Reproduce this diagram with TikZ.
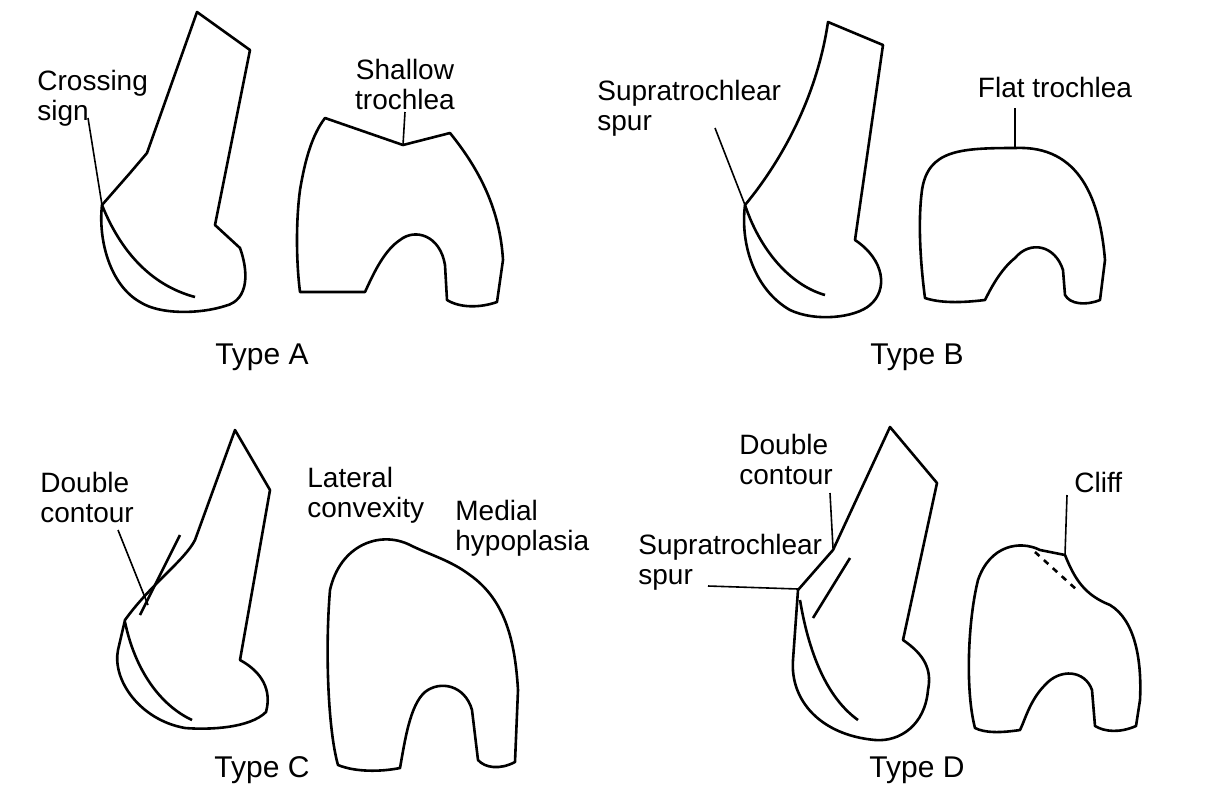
\documentclass[tikz,border=0pt]{standalone}
\usepackage{fontspec}
\setmainfont{Liberation Sans}
\tikzset{
  bone/.style={line width=1.3pt, line join=round},   % outline of a femur view
  lead/.style={line width=0.8pt},                    % leader line of a label
  lbl/.style={align=left, inner sep=1pt, font=\fontsize{14}{15}\selectfont},
  typ/.style={font=\fontsize{15}{16}\selectfont}
}
\begin{document}
\begin{tikzpicture}[x=0.5pt, y=-0.5pt]
  \useasboundingbox (0,0) rectangle (1216,800);

  % Type A
  \draw[bone] (197,12) -- (250,50) -- (215,225) -- (240,248)
    .. controls (248,270) and (250,300) .. (225,306)
    .. controls (200,314) and (160,315) .. (140,302)
    .. controls (110,285) and (98,240) .. (102,205)
    -- (130,173) -- (147,153) -- cycle;
  \draw[bone] (102,205) .. controls (120,250) and (150,285) .. (195,297);
  \coordinate (crossA) at (102,205);
  \node[lbl, anchor=north west] (crossing) at (35,68) {Crossing\\sign};
  \draw[lead] (88,118) -- (crossA);
  \draw[bone] (325,118) -- (403,145) -- (450,133)
    .. controls (480,170) and (500,210) .. (503,260)
    -- (497,302) .. controls (480,308) and (460,308) .. (447,300)
    -- (445,265) .. controls (440,235) and (415,228) .. (400,240)
    .. controls (385,250) and (375,270) .. (365,292)
    -- (300,292) .. controls (296,260) and (296,220) .. (300,190)
    .. controls (305,160) and (312,135) .. cycle;
  \coordinate (trochA) at (403,145);
  \node[lbl, align=center, anchor=south] (shallow) at (405,112) {Shallow\\trochlea};
  \draw[lead] (trochA) -- (shallow.south);
  \node[typ] (typeA) at (262,357) {Type A};

  % Type B
  \draw[bone] (828,22) -- (883,45) -- (855,240)
    .. controls (885,260) and (888,290) .. (870,305)
    .. controls (855,318) and (815,322) .. (790,310)
    .. controls (755,290) and (740,245) .. (745,205)
    .. controls (770,175) and (815,110) .. cycle;
  \draw[bone] (745,205) .. controls (760,250) and (790,285) .. (825,295);
  \coordinate (spurB) at (745,205);
  \node[lbl, anchor=north west] (supraB) at (595,78) {Supratrochlear\\spur};
  \draw[lead] (715,128) -- (spurB);
  \draw[bone] (1015,148) .. controls (1080,145) and (1100,200) .. (1105,260)
    -- (1100,300) .. controls (1085,306) and (1070,304) .. (1065,295)
    -- (1063,270) .. controls (1055,245) and (1030,240) .. (1015,258)
    .. controls (1000,270) and (990,290) .. (985,300)
    .. controls (960,303) and (940,303) .. (925,298)
    .. controls (920,260) and (918,220) .. (922,190)
    .. controls (928,150) and (960,148) .. cycle;
  \coordinate (trochB) at (1015,148);
  \node[lbl, anchor=south] (flat) at (1055,100) {Flat trochlea};
  \draw[lead] (trochB) -- (1015,108);
  \node[typ] (typeB) at (917,357) {Type B};

  % Type C
  \draw[bone] (235,430) -- (270,490) -- (240,660)
    .. controls (262,672) and (272,690) .. (266,712)
    .. controls (250,728) and (210,730) .. (185,728)
    .. controls (140,720) and (112,680) .. (118,650)
    -- (125,620) .. controls (150,585) and (185,560) .. (195,540) -- cycle;
  \draw[bone] (125,622) .. controls (135,670) and (160,705) .. (192,720);
  \draw[bone] (180,535) -- (140,615);
  \coordinate (dblC) at (148,605);
  \node[lbl, anchor=north west] (doubleC) at (38,470) {Double\\contour};
  \draw[lead] (118,530) -- (dblC);
  \draw[bone] (330,590) .. controls (340,545) and (380,530) .. (410,545)
    .. controls (430,555) and (450,560) .. (470,575)
    .. controls (505,600) and (515,640) .. (518,690)
    -- (515,762) .. controls (500,770) and (485,768) .. (478,760)
    -- (472,710) .. controls (465,685) and (440,680) .. (425,692)
    .. controls (410,705) and (405,740) .. (400,768)
    .. controls (380,772) and (355,772) .. (338,765)
    .. controls (328,730) and (325,650) .. cycle;
  \node[lbl, anchor=north west] (latconv) at (305,465) {Lateral\\convexity};
  \node[lbl, anchor=north west] (medhyp) at (453,498) {Medial\\hypoplasia};
  \node[typ] (typeC) at (262,770) {Type C};

  % Type D
  \draw[bone] (890,427) -- (937,483) -- (903,640)
    .. controls (925,655) and (932,670) .. (928,690)
    .. controls (925,725) and (900,742) .. (875,740)
    .. controls (820,735) and (790,700) .. (793,660)
    -- (798,590) -- (833,550) -- cycle;
  \draw[bone] (800,600) .. controls (810,660) and (830,700) .. (858,720);
  \draw[bone] (850,558) -- (813,618);
  \coordinate (dblD) at (833,548);
  \coordinate (spurD) at (798,589);
  \node[lbl, anchor=north west] (doubleD) at (737,432) {Double\\contour};
  \draw[lead] (830,493) -- (dblD);
  \node[lbl, anchor=north west] (supraD) at (636,532) {Supratrochlear\\spur};
  \draw[lead] (708,586) -- (spurD);
  \draw[bone] (1065,555) .. controls (1075,580) and (1085,595) .. (1110,605)
    .. controls (1135,620) and (1142,660) .. (1140,700)
    -- (1136,726) .. controls (1120,733) and (1105,732) .. (1095,726)
    -- (1092,690) .. controls (1085,670) and (1060,668) .. (1045,685)
    .. controls (1030,700) and (1025,720) .. (1020,730)
    .. controls (1000,733) and (985,733) .. (975,728)
    .. controls (965,690) and (968,620) .. (978,580)
    .. controls (990,545) and (1020,540) .. (1040,550) -- cycle;
  \draw[bone, dashed] (1035,552) -- (1077,590);
  \coordinate (cliffD) at (1065,555);
  \node[lbl, anchor=north west] (cliff) at (1072,470) {Cliff};
  \draw[lead] (cliffD) -- (1067,495);
  \node[typ] (typeD) at (917,770) {Type D};
\end{tikzpicture}
\end{document}
